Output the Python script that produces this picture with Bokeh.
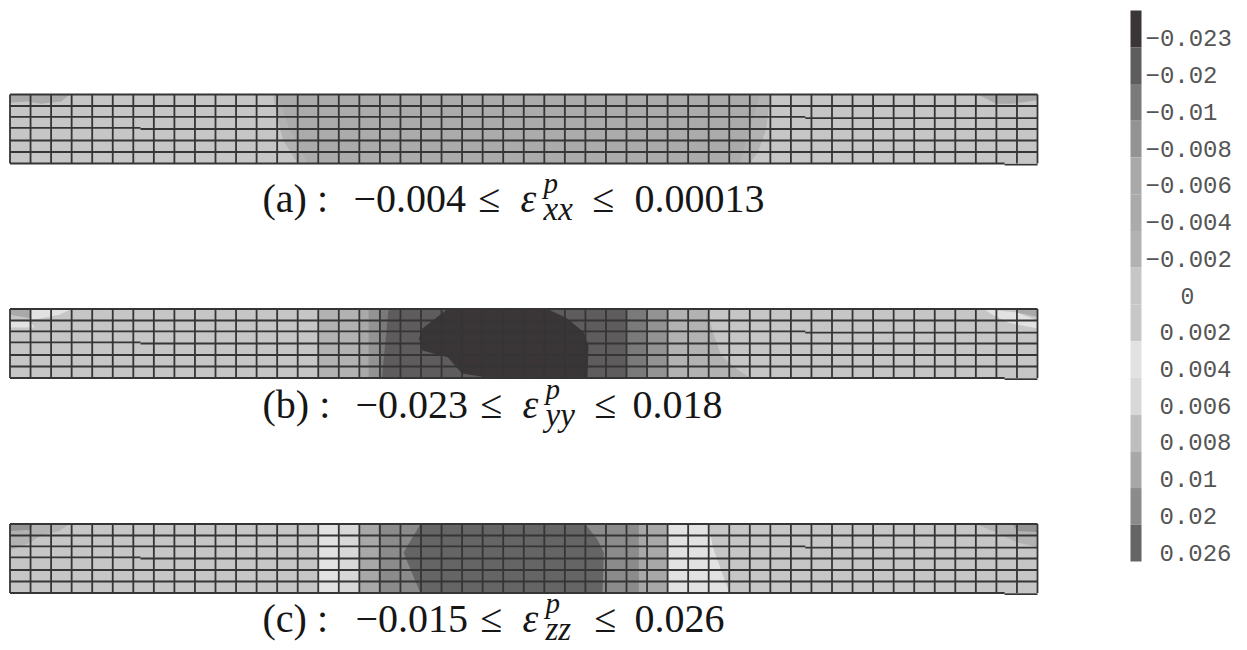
from bokeh.plotting import figure
from bokeh.models import Range1d
from bokeh.core.properties import value
from bokeh.embed import file_html
from bokeh.resources import INLINE

# ---- colour key: one shade per contour level ----
LEVELS = ["-0.023", "-0.02", "-0.01", "-0.008", "-0.006", "-0.004", "-0.002", "0",
          "0.002", "0.004", "0.006", "0.008", "0.01", "0.02", "0.026"]
SHADES = ["#3a3637", "#5e5c5d", "#7b7a7b", "#939393", "#a9a9a9", "#ababab", "#b2b2b2", "#c6c6c6",
          "#c8c8c8", "#e2e2e2", "#d8d8d8", "#bebebe", "#a8a8a8", "#8b8b8b", "#666566"]

# ---- mesh of the specimen: elements along and across ----
N_COLS = 50
N_ROWS = 6
BASE_LEVEL = "0"

# ---- contour regions in mesh units: (level, along, across from top) ----
REGIONS_A = [
    ("-0.002", [12.8, 13.0, 13.3, 14.0, 36.0, 36.4, 36.8, 37.0], [0, 2, 4, 6, 6, 5, 3, 0]),
    ("-0.004", [13.0, 13.6, 14.5, 35.5, 36.0, 36.5], [0, 3, 6, 6, 3, 0]),
    ("-0.006", [0, 2.9, 2.5, 1.5, 0.9, 0], [0, 0, 0.6, 0.8, 0.6, 0.7]),
    ("-0.006", [47.1, 50, 50, 48.8, 48.0], [0, 0, 0.5, 0.8, 0.8]),
]
REGIONS_B = [
    ("-0.002", [15, 15, 36, 35.2, 34.6, 34.2, 33.9], [0, 6, 6, 5, 4, 2, 0]),
    ("-0.006", [17, 17, 32, 32], [0, 6, 6, 0]),
    ("-0.008", [17.45, 17.45, 32, 32], [0, 6, 6, 0]),
    ("-0.01", [18.03, 18.03, 31, 31], [0, 6, 6, 0]),
    ("-0.02", [18.42, 18.1, 30, 30], [0, 6, 6, 0]),
    ("-0.023", [21.3, 20.07, 19.9, 20.07, 21.3, 22.0, 23.0, 23.9, 28.1, 28.15, 27.9, 27.1, 26.15],
               [0, 1.7, 2.57, 3.6, 4.2, 5.6, 5.9, 6, 6, 3.2, 2.0, 0.8, 0]),
    ("-0.006", [0, 1, 1, 0], [0, 0, 0.8, 0.5]),
    ("0.004", [0, 1, 1.2, 0], [0.9, 1.1, 1.6, 1.6]),
    ("0.004", [1, 3, 2.4, 1.3, 1], [0, 0, 0.5, 0.9, 0.9]),
    ("0.004", [47.4, 49, 50, 50, 48.6, 47.8], [0, 0.3, 1.0, 1.7, 1.2, 0.5]),
    ("-0.006", [49, 50, 50, 49], [0, 0, 0.7, 0.3]),
]
REGIONS_C = [
    ("0.004", [15, 15, 35, 34.6, 34.2, 34], [0, 6, 6, 4, 2, 0]),
    ("0.006", [16, 16, 17, 17], [0, 6, 6, 0]),
    ("0.01", [17, 17, 32, 32], [0, 6, 6, 0]),
    ("0.02", [17.93, 17.93, 30.6, 30.6], [0, 6, 6, 0]),
    ("0.026", [19.97, 19.15, 19.97, 28.83, 28.9, 28.6, 28.0], [0, 2.5, 6, 6, 2.5, 1.4, 0]),
    ("-0.002", [0, 2.9, 2.4, 1.5, 1, 0], [0, 0, 0.6, 1.0, 1.6, 2.3]),
    ("-0.008", [0, 1.1, 1, 0], [0, 0, 0.5, 0.6]),
    ("-0.002", [47, 50, 50, 49, 48.2], [0, 0, 2.0, 1.6, 0.9]),
    ("-0.008", [48.8, 50, 50, 49], [0, 0, 0.7, 0.6]),
]

# ---- captions ----
CAPTION_A = [("(a) :", 262), ("−0.004", 353), ("≤", 478), ("≤", 592), ("0.00013", 634)]
CAPTION_B = [("(b) :", 262), ("−0.023", 355), ("≤", 480), ("≤", 594), ("0.018", 632)]
CAPTION_C = [("(c) :", 262), ("−0.015", 355), ("≤", 480), ("≤", 594), ("0.026", 634)]
EPS_A = ("ε", 520, "p", 543, "xx", 543)
EPS_B = ("ε", 522, "p", 545, "yy", 545)
EPS_C = ("ε", 522, "p", 545, "zz", 545)

# ---- page layout in reference pixels ----
W, H = 1247, 650
PX0, PY0 = 0, 0
MESH_LEFT, CELL_W = 9.5, 20.55
PANEL_TOPS = {"a": 94.0, "b": 308.5, "c": 523.5}
ROW_H = 11.5
BAR_LEFT, BAR_RIGHT, BAR_TOP, BAR_BOTTOM = 1130, 1141, 10, 561

p = figure(width=W, height=H, output_backend="svg", toolbar_location=None,
           x_range=Range1d(PX0, PX0 + W), y_range=Range1d(PY0 + H, PY0),
           min_border=0, background_fill_color="white", border_fill_color="white",
           outline_line_color=None)
p.axis.visible = False
p.grid.visible = False

p.extra_x_ranges["mesh"] = Range1d((PX0 - MESH_LEFT) / CELL_W, (PX0 + W - MESH_LEFT) / CELL_W)
for k, top in PANEL_TOPS.items():
    p.extra_y_ranges[k] = Range1d((PY0 + H - top) / ROW_H, (PY0 - top) / ROW_H)
bar_step = (BAR_BOTTOM - BAR_TOP) / len(LEVELS)
p.extra_y_ranges["key"] = Range1d((PY0 + H - BAR_TOP) / bar_step, (PY0 - BAR_TOP) / bar_step)

shade = dict(zip(LEVELS, SHADES))


def panel(key, regions):
    kw = dict(x_range_name="mesh", y_range_name=key)
    p.patch([0, N_COLS, N_COLS, 0], [0, 0, N_ROWS, N_ROWS], fill_color=shade[BASE_LEVEL], line_color=None, **kw)
    for level, xs, ys in regions:
        p.patch(xs, ys, fill_color=shade[level], line_color=None, **kw)
    xs, ys = [], []
    for c in range(N_COLS + 1):
        xs.append([c, c])
        ys.append([0, N_ROWS])
    JOG_L, JOG_R, NOTCH = 6.35, 38.7, 48.4
    for r in range(N_ROWS + 1):
        if r == 3:
            xs += [[0, JOG_L], [JOG_L, N_COLS]]
            ys += [[r - 0.09, r - 0.09], [r, r]]
        elif r == 2:
            xs += [[0, JOG_R], [JOG_R, N_COLS]]
            ys += [[r - 0.05, r - 0.05], [r + 0.05, r + 0.05]]
        elif r == N_ROWS:
            xs += [[0, NOTCH], [NOTCH, N_COLS]]
            ys += [[r, r], [r + 0.09, r + 0.09]]
        else:
            xs.append([0, N_COLS])
            ys.append([r, r])
    p.multi_line(xs, ys, line_color="#353535", line_width=1.8, **kw)


panel("a", REGIONS_A)
panel("b", REGIONS_B)
panel("c", REGIONS_C)

# colour key
for i, (lab, col) in enumerate(zip(LEVELS, SHADES)):
    p.quad(left=BAR_LEFT, right=BAR_RIGHT, top=i, bottom=i + 1, fill_color=col, line_color=None,
           y_range_name="key")
    neg = lab.startswith("-")
    wide = lab.replace("-", "\u2212")
    if lab == "0":
        p.text([1187], [i + 0.76], text=[wide], text_font=value("Liberation Mono"), text_font_size="23px",
               text_color="#555555", text_baseline="middle", text_align="center", y_range_name="key")
    else:
        p.text([1145 if neg else 1159], [i + 0.76], text=[wide], text_font=value("Liberation Mono"),
               text_font_size="24px", text_color="#555555", text_baseline="middle", y_range_name="key")


def caption(pieces, eps, base):
    for txt, x in pieces:
        p.text([x], [base], text=[txt], text_font=value("Liberation Serif"), text_font_size="40px",
               text_color="#161616", text_baseline="alphabetic")
    e, ex, sup, sx, sub, bx = eps
    p.text([ex], [base], text=[e], text_font=value("Liberation Serif"), text_font_style="italic",
           text_font_size="40px", text_color="#161616", text_baseline="alphabetic")
    p.text([sx], [base - 16], text=[sup], text_font=value("Liberation Serif"), text_font_style="italic",
           text_font_size="29px", text_color="#161616", text_baseline="alphabetic")
    p.text([bx], [base + 10], text=[sub], text_font=value("Liberation Serif"), text_font_style="italic",
           text_font_size="33px", text_color="#161616", text_baseline="alphabetic")


caption(CAPTION_A, EPS_A, 198)
caption(CAPTION_B, EPS_B, 404)
caption(CAPTION_C, EPS_C, 618)

open("out.html", "w").write(file_html(p, INLINE))
